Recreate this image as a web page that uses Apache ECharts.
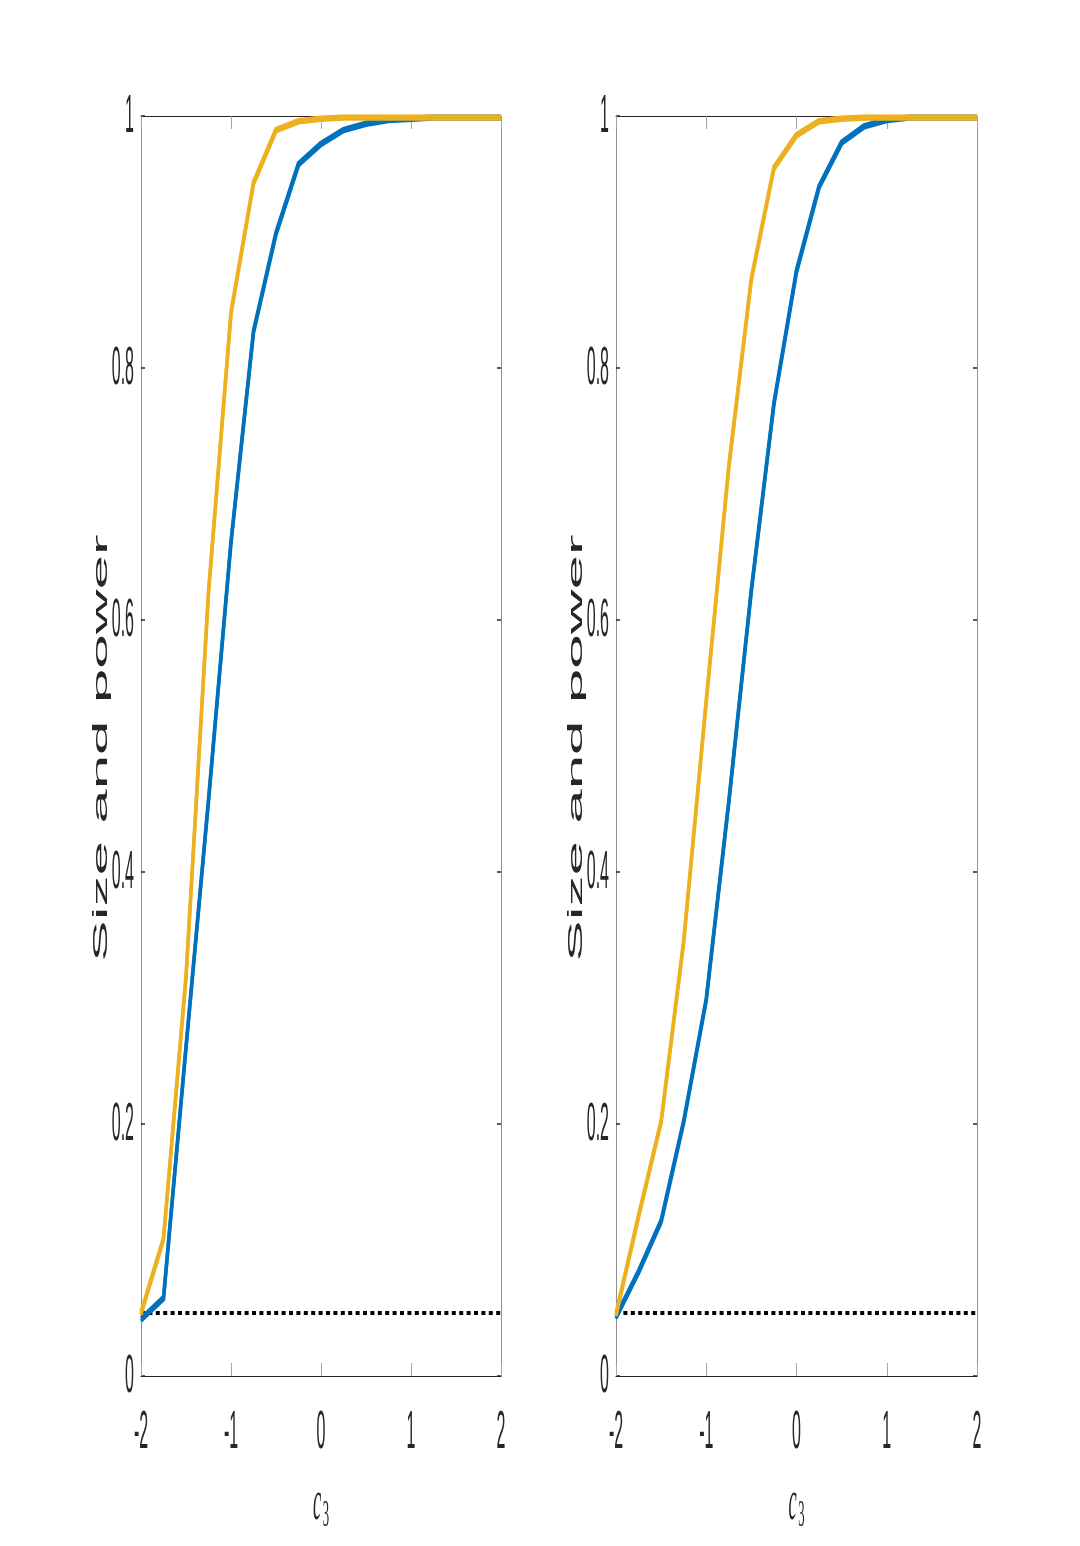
<!DOCTYPE html>
<html>
<head>
<meta charset="utf-8">
<title>Size and power</title>
<script src="https://cdn.jsdelivr.net/npm/echarts@6/dist/echarts.min.js"></script>
<style>
    html, body { margin: 0; padding: 0; background: #fff; }
    #chart { width: 1080px; height: 1546px; }
</style>
</head>
<body>
<div id="chart"></div>
<script>
// grid of c3 values (same for both panels)
const c3 = [-2, -1.75, -1.5, -1.25, -1, -0.75, -0.5, -0.25, 0, 0.25, 0.5, 0.75, 1, 1.25, 1.5, 1.75, 2];

// left panel
const blueLeft = [0.046, 0.063, 0.262, 0.458, 0.663, 0.830, 0.908, 0.963, 0.979, 0.990, 0.995, 0.998, 0.999, 1, 1, 1, 1];
const yellowLeft = [0.051, 0.110, 0.318, 0.623, 0.845, 0.948, 0.990, 0.997, 0.999, 1, 1, 1, 1, 1, 1, 1, 1];

// right panel
const blueRight = [0.048, 0.084, 0.124, 0.203, 0.300, 0.457, 0.625, 0.773, 0.878, 0.945, 0.980, 0.993, 0.998, 1, 1, 1, 1];
const yellowRight = [0.050, 0.128, 0.203, 0.346, 0.537, 0.723, 0.872, 0.960, 0.986, 0.997, 0.999, 1, 1, 1, 1, 1, 1];

// nominal level (dotted line)
const nominal = 0.05;

const xTicks = [-2, -1, 0, 1, 2];
const xTickLabels = ['-2', '-1', '0', '1', '2'];
const yTicks = [0, 0.2, 0.4, 0.6, 0.8, 1];
const yTickLabels = ['0', '0.2', '0.4', '0.6', '0.8', '1'];
const xName = 'c';
const xNameSub = '3';
const yName = 'Size and power';

const BLUE = '#0072BD';
const YELLOW = '#EDB120';
const DARK = '#262626';

const panels = [
    { blue: blueLeft, yellow: yellowLeft },
    { blue: blueRight, yellow: yellowRight }
];

const chart = echarts.init(document.getElementById('chart'), null, { renderer: 'canvas' });

function pairs(xs, ys) {
    return xs.map((x, i) => [x, ys[i]]);
}

// the source figure is stretched vertically, so flat parts of the curves
// look thicker than steep ones; a solid vertical shadow gives the same look
function curveStyle(color) {
    return {
        color: color,
        width: 3.5,
        join: 'miter',
        shadowColor: color,
        shadowBlur: 0,
        shadowOffsetX: 0,
        shadowOffsetY: 3
    };
}

const grids = [
    { left: 141, top: 116, width: 360, height: 1260 },
    { left: 616, top: 116, width: 361, height: 1260 }
];

const xAxes = [];
const yAxes = [];
const series = [];

panels.forEach((p, g) => {
    const xBase = {
        type: 'value',
        gridIndex: g,
        min: -2,
        max: 2,
        interval: 1,
        axisLine: { show: true, onZero: false, lineStyle: { color: DARK, width: 1 } },
        axisTick: { show: true, inside: true, length: 13, lineStyle: { color: '#a6a6a6', width: 1 } },
        axisLabel: { show: false },
        splitLine: { show: false }
    };
    xAxes.push(Object.assign({}, xBase, { position: 'bottom' }));
    xAxes.push(Object.assign({}, xBase, { position: 'top' }));

    const yBase = {
        type: 'value',
        gridIndex: g,
        min: 0,
        max: 1,
        interval: 0.2,
        axisLine: { show: true, onZero: false, lineStyle: { color: '#8f8f8f', width: 1 } },
        axisTick: { show: true, inside: true, length: 4, lineStyle: { color: DARK, width: 1.5 } },
        axisLabel: { show: false },
        splitLine: { show: false }
    };
    yAxes.push(Object.assign({}, yBase, { position: 'left' }));
    yAxes.push(Object.assign({}, yBase, { position: 'right' }));

    const axisRef = { xAxisIndex: 2 * g, yAxisIndex: 2 * g };
    series.push(Object.assign({
        type: 'line',
        name: 'blue',
        data: pairs(c3, p.blue),
        symbol: 'none',
        lineStyle: curveStyle(BLUE),
        z: 3
    }, axisRef));
    series.push(Object.assign({
        type: 'line',
        name: 'yellow',
        data: pairs(c3, p.yellow),
        symbol: 'none',
        lineStyle: curveStyle(YELLOW),
        z: 4
    }, axisRef));
    series.push(Object.assign({
        type: 'line',
        name: 'nominal',
        data: [[-2, nominal], [2, nominal]],
        symbol: 'none',
        lineStyle: { color: '#000', width: 4, type: [4, 3.4] },
        z: 2
    }, axisRef));
});

chart.setOption({
    animation: false,
    backgroundColor: '#fff',
    grid: grids,
    xAxis: xAxes,
    yAxis: yAxes,
    series: series
});

// tick labels and axis names are stretched tall like the source figure,
// so they are drawn as scaled text placed from the axis scales
const labelFont = '"Liberation Sans", Arial, sans-serif';
const graphics = [];

panels.forEach((p, g) => {
    const finder = { xAxisIndex: 2 * g, yAxisIndex: 2 * g };

    xTicks.forEach((t, i) => {
        const pt = chart.convertToPixel(finder, [t, 0]);
        graphics.push({
            type: 'text',
            x: pt[0],
            y: pt[1] + 57,
            scaleX: 1.0,
            scaleY: 3.4,
            style: {
                text: xTickLabels[i],
                fill: DARK,
                font: '16px ' + labelFont,
                align: 'center',
                verticalAlign: 'middle'
            }
        });
    });

    yTicks.forEach((t, i) => {
        const pt = chart.convertToPixel(finder, [-2, t]);
        graphics.push({
            type: 'text',
            x: pt[0] - 7,
            y: pt[1] + 1,
            scaleX: 1.0,
            scaleY: 3.4,
            style: {
                text: yTickLabels[i],
                fill: DARK,
                font: '16px ' + labelFont,
                align: 'right',
                verticalAlign: 'middle'
            }
        });
    });

    // y axis name, rotated and stretched along the text
    const mid = chart.convertToPixel(finder, [-2, 0.5]);
    graphics.push({
        type: 'text',
        x: mid[0] - 40,
        y: mid[1] + 2,
        rotation: Math.PI / 2,
        scaleX: 3.1,
        scaleY: 1.05,
        style: {
            text: yName,
            fill: DARK,
            font: '20px ' + labelFont,
            align: 'center',
            verticalAlign: 'middle'
        }
    });

    // x axis name: italic c with subscript 3
    const zero = chart.convertToPixel(finder, [0, 0]);
    graphics.push({
        type: 'text',
        x: zero[0] - 4,
        y: zero[1] + 128,
        scaleX: 1.15,
        scaleY: 3.6,
        style: {
            text: xName,
            fill: DARK,
            font: 'italic 16px "Liberation Serif", serif',
            align: 'center',
            verticalAlign: 'middle'
        }
    });
    graphics.push({
        type: 'text',
        x: zero[0] + 5,
        y: zero[1] + 140,
        scaleX: 1.15,
        scaleY: 3.4,
        style: {
            text: xNameSub,
            fill: DARK,
            font: '11px "Liberation Serif", serif',
            align: 'center',
            verticalAlign: 'middle'
        }
    });
});

chart.setOption({ graphic: graphics });
</script>
</body>
</html>
